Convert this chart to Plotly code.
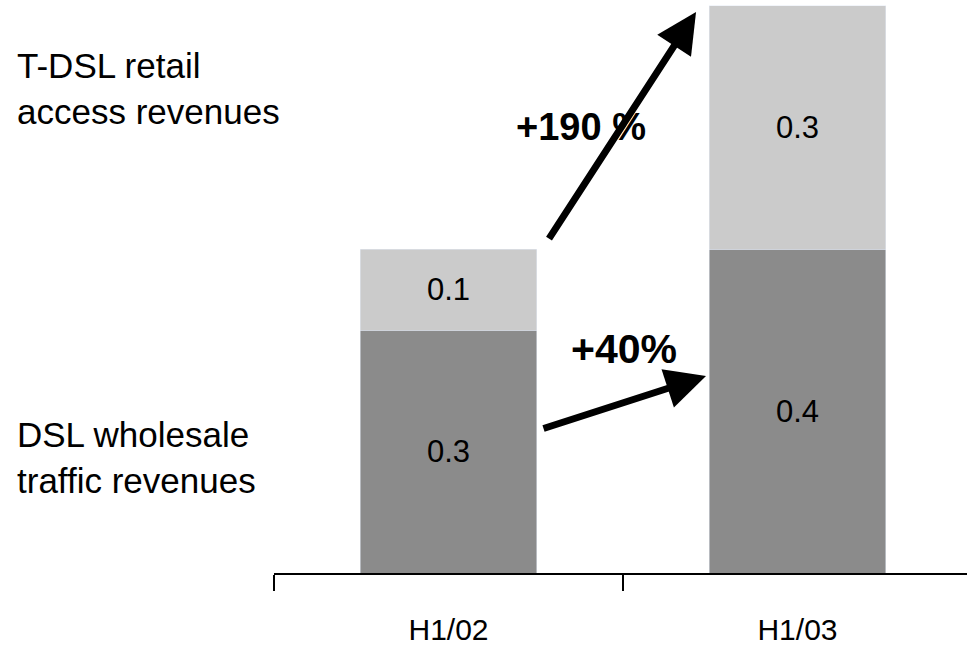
import plotly.graph_objects as go

periods = ["H1/02", "H1/03"]
wholesale = [0.3, 0.4]   # DSL wholesale traffic revenues
retail = [0.1, 0.3]      # T-DSL retail access revenues

font_fam = "Liberation Sans, Arial, sans-serif"

fig = go.Figure()
fig.add_trace(go.Bar(x=periods, y=wholesale, marker_color="#8b8b8b",
                     text=[f"{v:.1f}" for v in wholesale], textposition="inside",
                     insidetextanchor="middle",
                     textfont=dict(family=font_fam, size=31, color="black")))
fig.add_trace(go.Bar(x=periods, y=retail, marker_color="#cbcbcb",
                     text=[f"{v:.1f}" for v in retail], textposition="inside",
                     insidetextanchor="middle",
                     textfont=dict(family=font_fam, size=31, color="black")))

fig.update_layout(
    barmode="stack", bargap=0.493, showlegend=False,
    width=967, height=650,
    margin=dict(l=274, r=0, t=0, b=77),
    plot_bgcolor="white", paper_bgcolor="white",
    xaxis=dict(range=[-0.5, 1.4857], showline=True, linecolor="black", linewidth=2,
               ticks="outside", tickson="boundaries", ticklen=16, tickwidth=2,
               tickcolor="black", showgrid=False, ticklabelstandoff=29,
               tickfont=dict(family=font_fam, size=30, color="black")),
    yaxis=dict(range=[0, 0.7074], visible=False, showgrid=False),
)

# growth arrows
arrow = dict(xref="paper", yref="paper", showarrow=True, arrowhead=2,
             arrowwidth=7, arrowsize=1.15, arrowcolor="black", text="", standoff=0)
fig.add_annotation(x=0.609, y=0.979, ax=-148, ay=228, **arrow)
fig.add_annotation(x=0.6234, y=0.3438, ax=-164, ay=53, **arrow)

fig.add_annotation(x=0.443, y=0.778, xref="paper", yref="paper", text="<b>+190 %</b>",
                   xanchor="center", yanchor="middle", showarrow=False,
                   font=dict(family=font_fam, size=38, color="black"))
fig.add_annotation(x=0.505, y=0.391, xref="paper", yref="paper", text="<b>+40%</b>",
                   xanchor="center", yanchor="middle", showarrow=False,
                   font=dict(family=font_fam, size=41, color="black"))

side = dict(family=font_fam, size=35, color="black")
fig.add_annotation(x=-0.3737, y=0.846, xref="paper", yref="paper", xanchor="left",
                   yanchor="middle", align="left", text="T-DSL retail<br>access revenues",
                   showarrow=False, font=side)
fig.add_annotation(x=-0.3737, y=0.2007, xref="paper", yref="paper", xanchor="left",
                   yanchor="middle", align="left", text="DSL wholesale<br>traffic revenues",
                   showarrow=False, font=side)

fig.write_html("out.html", config={"displayModeBar": False},
               post_script="document.body.style.margin='0px';")
